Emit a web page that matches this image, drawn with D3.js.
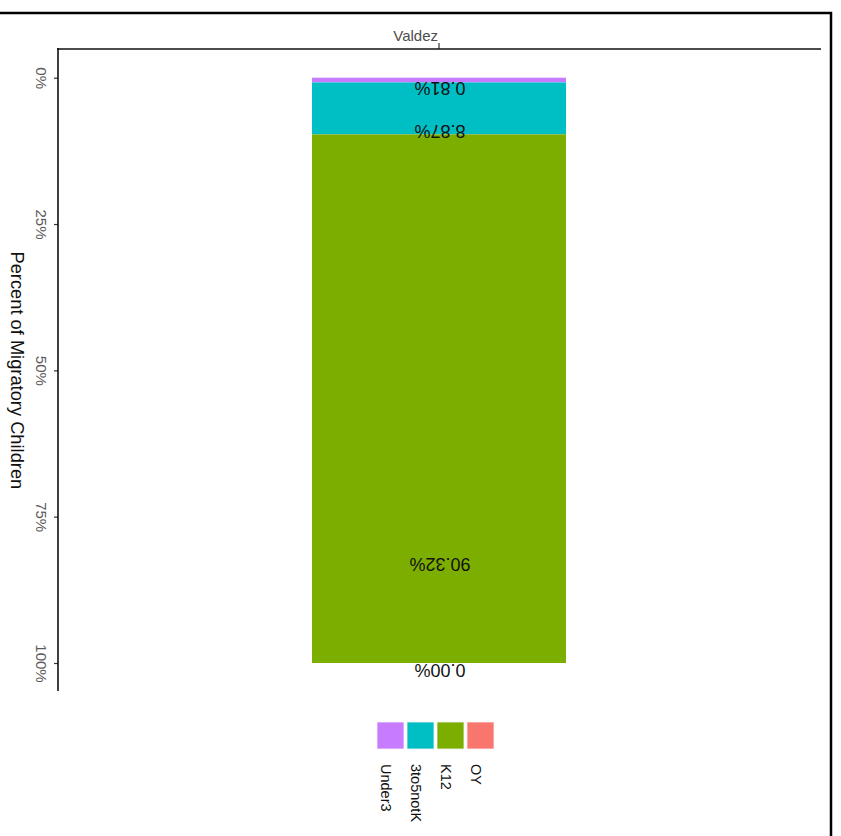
<!DOCTYPE html>
<html>
<head>
<meta charset="utf-8">
<script src="https://cdn.jsdelivr.net/npm/d3@7"></script>
<style>
  html, body { margin: 0; padding: 0; background: #fff; }
  text { font-family: "Liberation Sans", Arial, sans-serif; }
</style>
</head>
<body>
<svg id="chart" width="841" height="836"></svg>
<script>
const categories = ["Valdez"];
const groups = ["Under3", "3to5notK", "K12", "OY"];
const values = [0.81, 8.87, 90.32, 0.00];
const groupColors = ["#C77CFF", "#00BFC4", "#7CAE00", "#F8766D"];
const yTicks = [0, 0.25, 0.5, 0.75, 1];
const yTickLabels = ["0%", "25%", "50%", "75%", "100%"];
const yTitle = "Percent of Migratory Children";

const svg = d3.select("#chart");

// frame
svg.append("path")
  .attr("d", "M0,13 H831 V836")
  .attr("fill", "none").attr("stroke", "#000").attr("stroke-width", 2.5);

const x = d3.scaleBand().domain(categories).range([58, 820]).paddingInner(0).paddingOuter(1);
const y = d3.scaleLinear().domain([0, 1]).range([77.7, 663]);
const color = d3.scaleOrdinal().domain(groups).range(groupColors);

// stacked data
let cum = 0;
const stacked = groups.map((g, i) => {
  const v = values[i] / 100;
  const d = { group: g, value: values[i], y0: cum, y1: cum + v };
  cum += v;
  return d;
});

// bars
svg.append("g").selectAll("rect").data(stacked).join("rect")
  .attr("x", x("Valdez"))
  .attr("width", x.bandwidth())
  .attr("y", d => y(d.y0))
  .attr("height", d => Math.max(0, y(d.y1) - y(d.y0)))
  .attr("fill", d => color(d.group));

// bar labels (upside down)
svg.append("g").selectAll("text").data(stacked).join("text")
  .attr("transform", d => `translate(${x("Valdez") + x.bandwidth() / 2 + 1},${y(d.y1 - 0.2 * d.value / 100) + 1}) rotate(180)`)
  .attr("text-anchor", "middle")
  .attr("font-size", 18)
  .attr("fill", "#111")
  .text(d => d.value.toFixed(2) + "%");

// top axis
const xAxis = svg.append("g").attr("transform", "translate(0,49)")
  .call(d3.axisTop(x).tickSize(6).tickSizeOuter(0));
xAxis.select(".domain").remove();
xAxis.selectAll(".tick line").attr("stroke", "#333").attr("stroke-width", 1.2);
xAxis.selectAll(".tick text")
  .attr("y", -8).attr("x", -1)
  .attr("text-anchor", "end")
  .attr("font-size", 15)
  .attr("font-family", "Liberation Sans, Arial, sans-serif")
  .attr("fill", "#4d4d4d");

svg.append("line").attr("x1", 57).attr("x2", 821).attr("y1", 49).attr("y2", 49)
  .attr("stroke", "#111").attr("stroke-width", 1.6);

// left axis
const yAxis = svg.append("g").attr("transform", "translate(58,0)")
  .call(d3.axisLeft(y).tickValues(yTicks).tickFormat((d, i) => yTickLabels[i]).tickSize(4).tickSizeOuter(0));
yAxis.select(".domain").remove();
yAxis.selectAll(".tick line").attr("stroke", "#333").attr("stroke-width", 1.2);
yAxis.selectAll(".tick text")
  .attr("x", null).attr("dy", null)
  .attr("transform", "translate(-22,0) rotate(90)")
  .attr("text-anchor", "middle")
  .attr("font-size", 15)
  .attr("font-family", "Liberation Sans, Arial, sans-serif")
  .attr("fill", "#5a5a5a");

svg.append("line").attr("x1", 58).attr("x2", 58).attr("y1", 48).attr("y2", 691)
  .attr("stroke", "#111").attr("stroke-width", 1.6);

// y title
svg.append("text")
  .attr("transform", `translate(10.5,${y(0.5)}) rotate(90)`)
  .attr("text-anchor", "middle")
  .attr("font-size", 18.3)
  .attr("fill", "#111")
  .text(yTitle);

// legend
const legend = svg.append("g").attr("transform", "translate(377,722)");
const keyStep = 30, keySize = 27;
legend.selectAll("rect").data(groups).join("rect")
  .attr("x", (d, i) => i * keyStep)
  .attr("y", 0)
  .attr("width", keySize).attr("height", keySize)
  .attr("fill", d => color(d))
  .attr("stroke", "#f4f4f4").attr("stroke-width", 0.8);
legend.selectAll("text").data(groups).join("text")
  .attr("transform", (d, i) => `translate(${i * keyStep + 4},42) rotate(90)`)
  .attr("text-anchor", "start")
  .attr("font-size", 14.5)
  .attr("fill", "#111")
  .text(d => d);
</script>
</body>
</html>
